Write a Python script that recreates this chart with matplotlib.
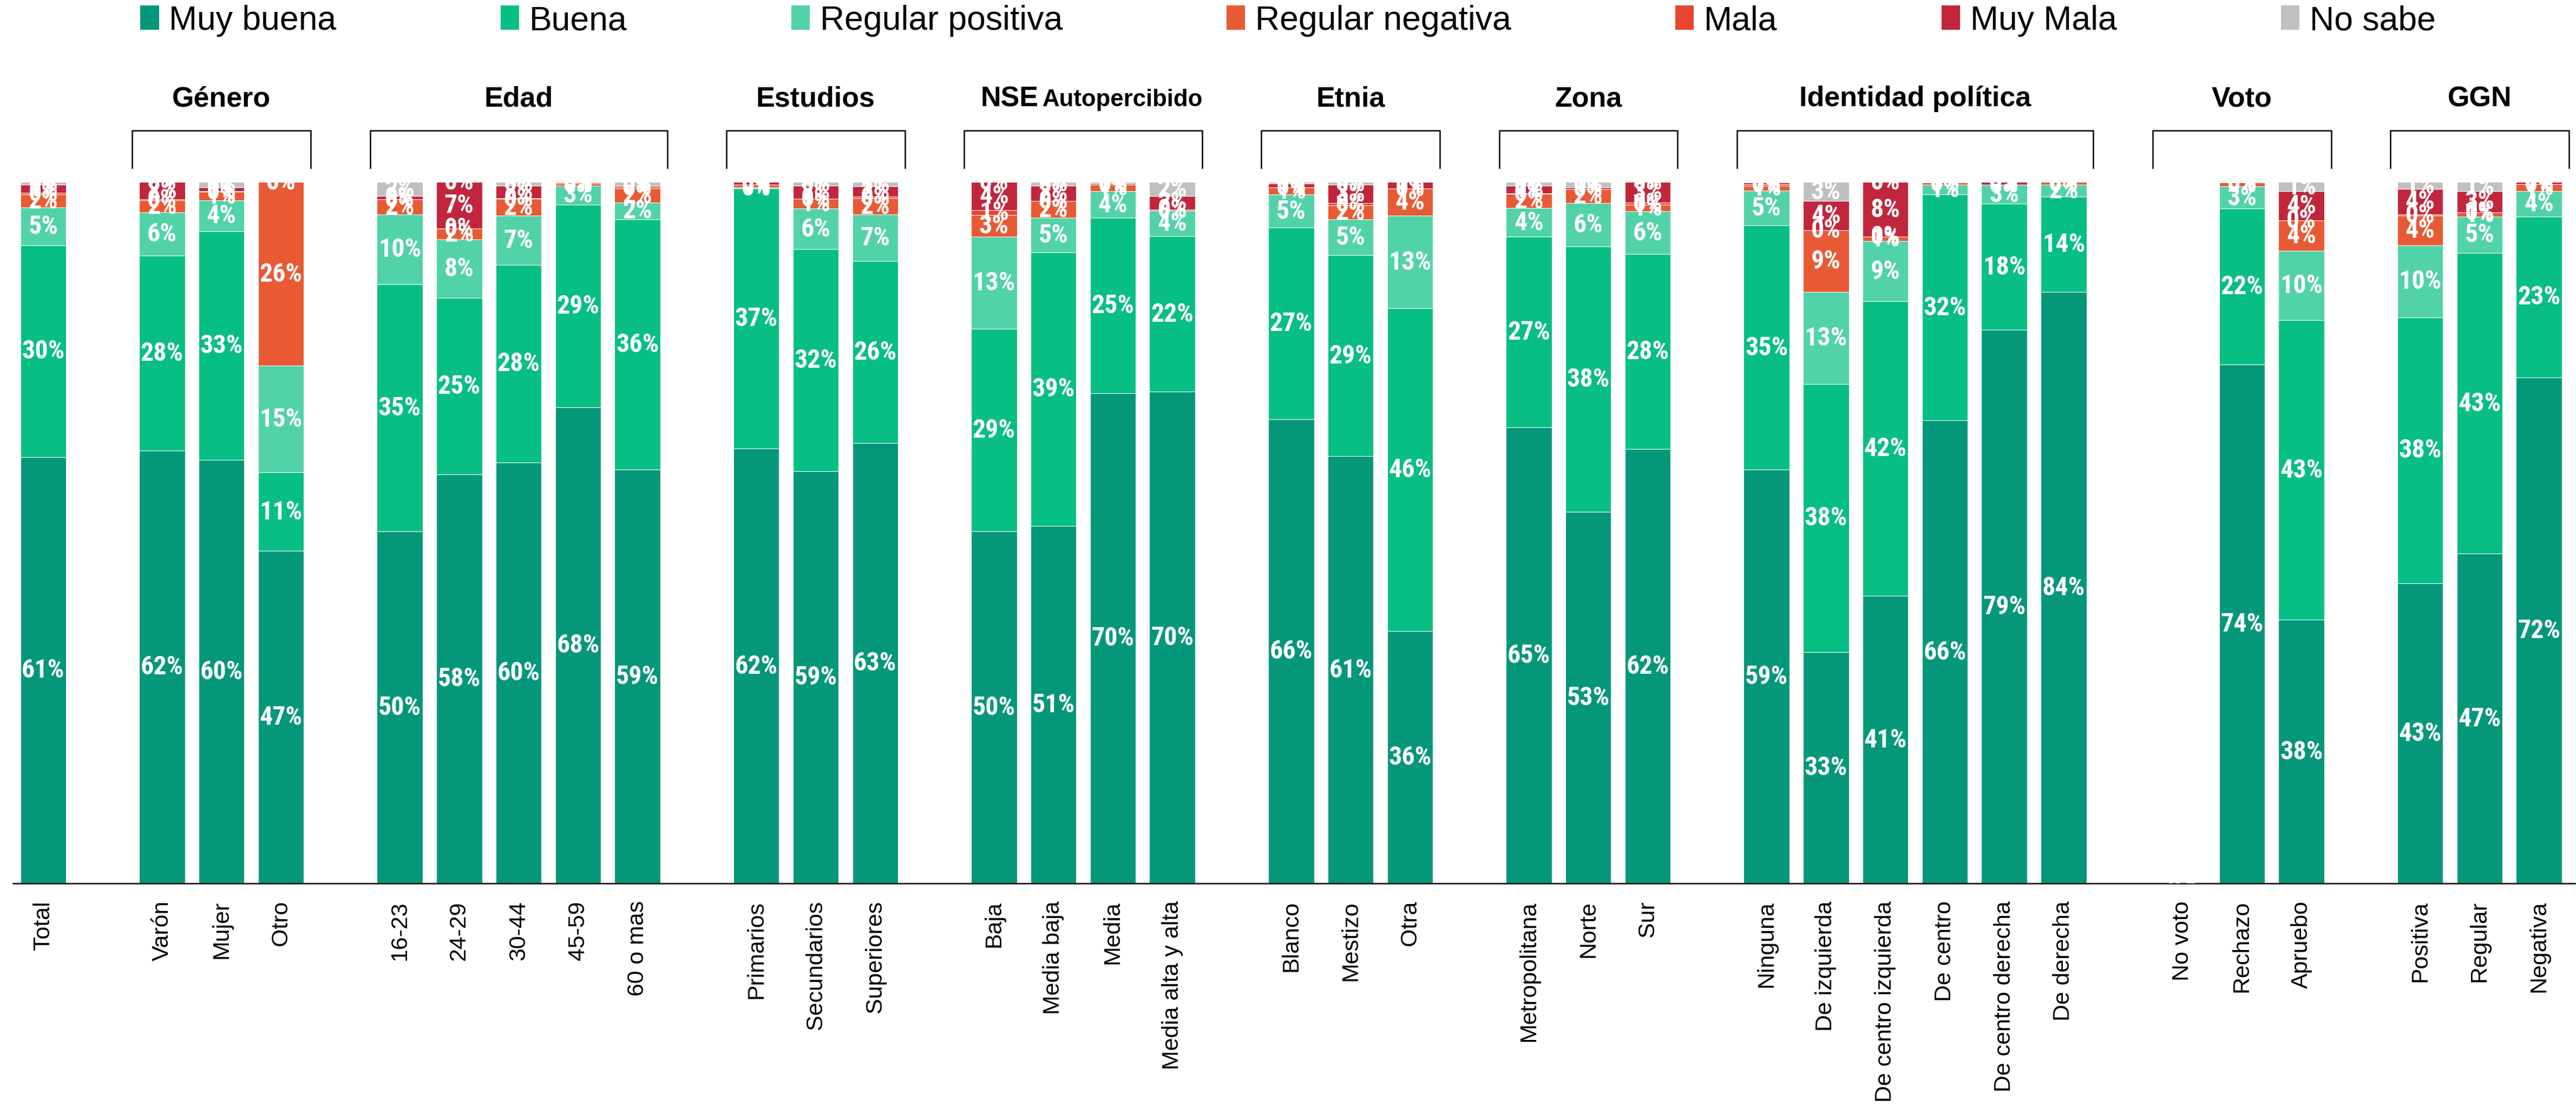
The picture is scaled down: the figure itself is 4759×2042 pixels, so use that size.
import matplotlib
matplotlib.use("Agg")
import numpy as np
import matplotlib.pyplot as plt
from matplotlib import font_manager
from matplotlib.patches import Patch
from matplotlib.transforms import blended_transform_factory


def pick_font(names):
    installed = {f.name for f in font_manager.fontManager.ttflist}
    for n in names:
        if n in installed:
            return n
    return "DejaVu Sans"


FONT = pick_font(["Liberation Sans", "Arial", "DejaVu Sans"])
FONT_NARROW = pick_font(["Liberation Sans Narrow", "Arial Narrow", "Roboto Condensed",
                         "DejaVu Sans Condensed", "Liberation Sans"])
plt.rcParams["font.family"] = [FONT, "DejaVu Sans"]

# respuestas, de abajo hacia arriba en cada barra
respuestas = ["Muy buena", "Buena", "Regular positiva", "Regular negativa", "Mala", "Muy Mala", "No sabe"]
colores = ["#05977A", "#07BE85", "#52D2A8", "#E85A34", "#E94430", "#C1263C", "#C0C0C0"]

# grupos de segmentación (el primero es el total, sin título)
grupos = [
    ("", ["Total"]),
    ("Género", ["Varón", "Mujer", "Otro"]),
    ("Edad", ["16-23", "24-29", "30-44", "45-59", "60 o mas"]),
    ("Estudios", ["Primarios", "Secundarios", "Superiores"]),
    ("NSE", ["Baja", "Media baja", "Media", "Media alta y alta"]),
    ("Etnia", ["Blanco", "Mestizo", "Otra"]),
    ("Zona", ["Metropolitana", "Norte", "Sur"]),
    ("Identidad política", ["Ninguna", "De izquierda", "De centro izquierda", "De centro",
                            "De centro derecha", "De derecha"]),
    ("Voto", ["No voto", "Rechazo", "Apruebo"]),
    ("GGN", ["Positiva", "Regular", "Negativa"]),
]

# porcentajes por respuesta, en el orden de las barras
muy_buena = [60.8, 61.7, 60.4, 47.4, 50.2, 58.3, 60.0, 67.9, 59.0, 62.0, 58.8, 62.8,
             50.2, 51.0, 69.9, 70.1, 66.2, 60.9, 36.0, 65.0, 53.0, 61.9,
             59.0, 33.0, 41.0, 66.0, 78.9, 84.3, 0, 74.0, 37.6, 42.8, 47.0, 72.1]
buena = [30.2, 27.8, 32.6, 11.2, 35.2, 25.2, 28.2, 28.9, 35.7, 37.1, 31.6, 25.9,
         28.9, 39.0, 25.0, 22.2, 27.3, 28.7, 46.0, 27.2, 37.8, 27.8,
         34.8, 38.2, 42.0, 32.2, 18.0, 13.6, 0, 22.2, 42.7, 37.9, 42.9, 23.0]
regular_pos = [5.4, 6.2, 4.4, 15.2, 10.0, 8.3, 7.0, 2.7, 2.4, 0.1, 5.8, 6.7,
               13.1, 4.9, 3.8, 3.6, 4.7, 5.1, 13.2, 4.1, 6.2, 6.1,
               5.0, 13.1, 8.6, 1.4, 2.7, 1.7, 0, 3.2, 9.9, 10.3, 5.2, 3.6]
regular_neg = [1.8, 1.7, 1.2, 26.2, 2.1, 1.6, 2.4, 0.3, 2.0, 0.4, 1.4, 2.3,
               3.1, 2.4, 0.9, 0.2, 1.0, 2.0, 3.9, 2.0, 2.0, 1.0,
               0.7, 8.8, 0.6, 0.3, 0.0, 0.4, 0, 0.5, 4.3, 4.2, 0.6, 1.0]
mala = [0.3, 0.1, 0.1, 0.0, 0.0, 0.0, 0.1, 0.1, 0.2, 0.0, 0.0, 0.2,
        0.7, 0.0, 0.0, 0.0, 0.0, 0.3, 0.0, 0.1, 0.0, 0.3,
        0.2, 0.0, 0.0, 0.0, 0.0, 0.0, 0, 0.0, 0.0, 0.2, 0.0, 0.0]
muy_mala = [1.1, 2.5, 0.5, 0.0, 0.5, 6.6, 1.8, 0.1, 0.2, 0.4, 1.9, 1.5,
            4.0, 2.2, 0.2, 1.9, 0.6, 2.6, 0.9, 1.1, 0.2, 2.9,
            0.2, 4.2, 7.8, 0.1, 0.4, 0.0, 0, 0.1, 4.2, 3.6, 3.0, 0.3]
no_sabe = [0.4, 0.0, 0.8, 0.0, 2.0, 0.0, 0.5, 0.0, 0.5, 0.0, 0.5, 0.6,
           0.0, 0.5, 0.2, 2.0, 0.2, 0.4, 0.0, 0.5, 0.8, 0.0,
           0.1, 2.7, 0.0, 0.0, 0.0, 0.0, 0, 0.0, 1.3, 1.0, 1.3, 0.0]

series = [muy_buena, buena, regular_pos, regular_neg, mala, muy_mala, no_sabe]

# posiciones: un hueco entre grupos
etiquetas, posiciones, tramos = [], [], []
pos = 0
for titulo, cats in grupos:
    inicio = pos
    for c in cats:
        etiquetas.append(c)
        posiciones.append(pos)
        pos += 1
    tramos.append((titulo, inicio, pos - 1))
    pos += 1
posiciones = np.array(posiciones, dtype=float)

fig = plt.figure(figsize=(4759 / 300, 2043 / 300), dpi=300)
ax = fig.add_axes([0.005, 0.2012, 0.9945, 0.6338])

base = np.zeros(len(posiciones))
for nombre, vals, color in zip(respuestas, series, colores):
    vals = np.array(vals, dtype=float)
    ax.bar(posiciones, vals, bottom=base, width=0.77, color=color, label=nombre,
           edgecolor="white", linewidth=0.25)
    for x, b, v in zip(posiciones, base, vals):
        ax.text(x, b + v / 2, f"{v:.0f}%", ha="center", va="center", color="white",
                fontsize=11.5, fontweight="bold", family=[FONT_NARROW, "DejaVu Sans"],
                clip_on=True, zorder=4)
    base += vals

ax.set_xlim(-0.51, 42.6)
ax.set_ylim(0, 100)
ax.set_yticks([])
ax.set_xticks(posiciones)
ax.set_xticklabels(etiquetas, rotation=90, fontsize=10.3, va="top", ha="center")
ax.tick_params(axis="x", length=0, pad=7.5)
for s in ["top", "left", "right"]:
    ax.spines[s].set_visible(False)
ax.spines["bottom"].set_linewidth(0.6)
ax.spines["bottom"].set_color("black")

# títulos de grupo con su llave
tr = blended_transform_factory(ax.transData, fig.transFigure)
y_top, y_leg, y_tit = 0.8815, 0.848, 0.904
for titulo, a, b in tramos:
    if not titulo:
        continue
    x0, x1 = a - 0.5, b + 0.5
    ax.plot([x0, x0, x1, x1], [y_leg, y_top, y_top, y_leg], color="black", lw=0.6,
            transform=tr, clip_on=False, solid_joinstyle="round")
    xc = (x0 + x1) / 2
    if titulo == "NSE":
        ax.text(xc - 0.75, y_tit, "NSE", transform=tr, ha="right", va="baseline",
                fontsize=12.5, fontweight="bold")
        ax.text(xc - 0.68, y_tit, "Autopercibido", transform=tr, ha="left", va="baseline",
                fontsize=10.5, fontweight="bold")
    else:
        ax.text(xc, y_tit, titulo, transform=tr, ha="center", va="baseline",
                fontsize=12.5, fontweight="bold")

handles = [Patch(facecolor=c, edgecolor="none") for c in colores]
fig.legend(handles, respuestas, loc="center", bbox_to_anchor=(0.5, 0.981), ncol=7,
           frameon=False, fontsize=15, handlelength=0.55, handleheight=0.75,
           handletextpad=0.3, columnspacing=4.85, borderpad=0, borderaxespad=0)

fig.savefig("out.png", dpi=300)
